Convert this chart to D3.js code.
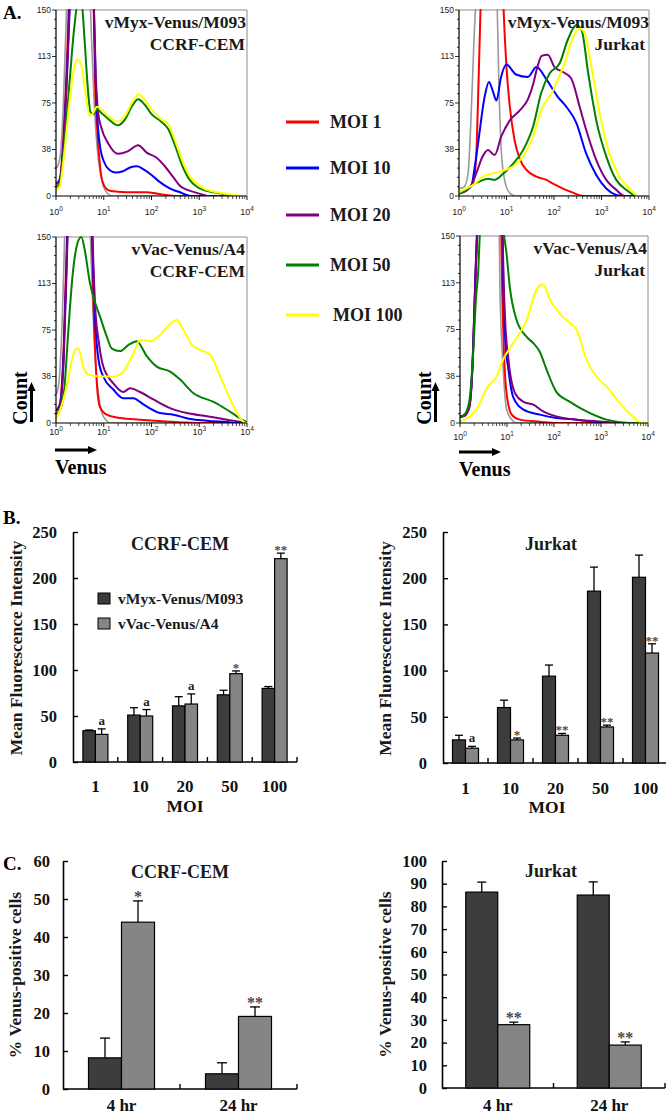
<!DOCTYPE html>
<html><head><meta charset="utf-8">
<script src="https://cdnjs.cloudflare.com/ajax/libs/d3/7.8.5/d3.min.js"></script>
<style>
body{margin:0;background:#fff}
svg{display:block;background:#fff}
.serif{font-family:"Liberation Serif","Times New Roman",serif;font-weight:bold}
.sans{font-family:"Liberation Sans",Arial,sans-serif}
</style></head>
<body><svg id="c" width="666" height="1116"></svg>
<script>
// ---------------- DATA ----------------
// Histogram curves: [log10(Venus), Count]
const tlGray=[[0,22],[0.08,30],[0.15,70],[0.22,150],[0.3,260],[0.45,400],[0.6,320],[0.68,200],[0.74,130],[0.8,75],[0.86,40],[0.93,18],[1.0,7],[1.08,2],[1.18,0],[4,0]];
const tlRed=[[0,9],[0.08,14],[0.16,50],[0.24,120],[0.32,220],[0.5,380],[0.7,300],[0.78,170],[0.82,90],[0.87,50],[0.92,25],[0.97,12],[1.05,6],[1.15,4],[1.3,3.5],[1.6,3],[1.9,3],[2.1,2],[2.3,0.8],[2.5,0],[4,0]];
const tlBlue=[[0,10],[0.08,13],[0.16,45],[0.24,110],[0.3,170],[0.5,400],[0.72,300],[0.78,170],[0.83,95],[0.88,55],[0.93,38],[1.0,28],[1.12,21],[1.25,19],[1.4,20],[1.55,23],[1.7,24],[1.85,21],[2.0,17],[2.15,12],[2.3,8],[2.45,5],[2.6,3],[2.72,1],[2.85,0],[4,0]];
const tlPurple=[[0,10],[0.08,12],[0.16,42],[0.24,105],[0.3,165],[0.5,400],[0.72,300],[0.78,175],[0.83,100],[0.88,68],[0.95,55],[1.1,42],[1.3,34],[1.5,36],[1.72,41],[1.9,35],[2.1,31],[2.3,23],[2.46,15],[2.6,8],[2.75,5],[2.95,2.5],[3.1,0.8],[3.2,0],[4,0]];
const tlGreen=[[0,7],[0.08,10],[0.16,35],[0.28,90],[0.38,135],[0.46,156],[0.54,154],[0.6,125],[0.66,90],[0.72,68],[0.78,66],[0.86,70],[0.95,67],[1.1,62],[1.3,57],[1.45,62],[1.6,73],[1.72,78],[1.85,74],[2.0,66],[2.2,60],[2.35,54],[2.5,40],[2.65,24],[2.8,13],[2.95,7.5],[3.08,5],[3.3,3],[3.5,1.5],[3.65,0],[4,0]];
const tlYellow=[[0,5],[0.08,8],[0.16,30],[0.28,75],[0.38,103],[0.46,110],[0.54,104],[0.62,82],[0.7,65],[0.76,66],[0.86,72],[0.95,70],[1.1,64],[1.3,60],[1.45,65],[1.6,76],[1.72,82],[1.85,78],[2.0,70],[2.2,62],[2.35,58],[2.5,44],[2.65,28],[2.8,16],[2.95,10],[3.1,6],[3.25,4],[3.45,2.5],[3.65,1.3],[3.9,0],[4,0]];

const trGray=[[0,6],[0.1,7],[0.19,18],[0.25,60],[0.32,130],[0.37,170],[0.55,400],[0.76,260],[0.8,160],[0.84,90],[0.89,37],[0.95,15],[1.0,7],[1.07,2.5],[1.15,0.5],[1.22,0],[4,0]];
const trRed=[[0,2],[0.12,4],[0.22,7],[0.3,11],[0.36,30],[0.41,90],[0.46,160],[0.6,400],[0.85,300],[0.9,200],[0.94,150],[1.0,104],[1.07,72],[1.17,45],[1.28,30],[1.42,21],[1.63,15.6],[1.84,13],[1.98,10],[2.19,6],[2.4,2.7],[2.54,0.5],[2.6,0],[4,0]];
const trBlue=[[0,3],[0.1,4],[0.2,6],[0.26,8],[0.33,23],[0.4,42],[0.54,80],[0.63,92],[0.7,86],[0.79,77],[0.88,95],[1.0,106],[1.2,98],[1.45,96],[1.63,104],[1.84,94],[2.08,80],[2.26,72],[2.47,59],[2.68,34],[2.89,17],[3.1,6],[3.31,0.8],[3.45,0],[4,0]];
const trPurple=[[0,2],[0.15,4],[0.25,8],[0.36,18],[0.5,32],[0.61,37],[0.75,33],[0.89,48],[1.07,61],[1.28,69],[1.45,78],[1.56,90],[1.65,104],[1.74,113],[1.87,114],[2.01,104],[2.19,100],[2.36,95],[2.54,72],[2.68,53],[2.89,29],[3.1,13],[3.31,5],[3.45,0.5],[3.55,0],[4,0]];
const trGreen=[[0,2],[0.15,5],[0.29,9],[0.45,12],[0.61,14],[0.75,13],[0.93,18],[1.14,26],[1.35,37],[1.56,56],[1.73,83],[1.91,99],[2.12,107],[2.29,126],[2.47,138],[2.58,134],[2.72,99],[2.89,61],[3.1,32],[3.31,13],[3.52,5],[3.7,0.5],[3.8,0],[4,0]];
const trYellow=[[0,3],[0.15,6],[0.3,9],[0.5,15.6],[0.86,19.6],[1.14,24],[1.35,32],[1.56,48],[1.73,69],[1.98,85],[2.22,107],[2.4,128],[2.54,135],[2.65,131],[2.79,104],[2.96,67],[3.17,34],[3.38,15.6],[3.59,6],[3.77,0],[4,0]];

const blGray=[[0,23],[0.05,29],[0.1,55],[0.16,120],[0.22,210],[0.45,400],[0.64,260],[0.72,150],[0.78,85],[0.84,43],[0.9,20],[0.96,8],[1.05,2.5],[1.13,0],[4,0]];
const blRed=[[0,10],[0.08,15],[0.16,60],[0.23,150],[0.3,250],[0.5,400],[0.7,300],[0.75,160],[0.79,90],[0.85,35],[0.92,13],[1.06,6.7],[1.34,4],[1.76,2.7],[2.32,1.3],[2.67,0.5],[3.0,0],[4,0]];
const blBlue=[[0,10],[0.08,14],[0.16,55],[0.23,140],[0.3,240],[0.5,400],[0.7,300],[0.76,150],[0.82,83],[0.89,51],[0.99,37.5],[1.2,27],[1.41,20],[1.62,20],[1.83,15],[2.18,8],[2.46,6.7],[2.81,3.2],[3.16,1.9],[3.58,0.8],[3.86,0],[4,0]];
const blPurple=[[0,10],[0.08,13],[0.16,50],[0.23,135],[0.3,235],[0.5,400],[0.7,300],[0.76,160],[0.82,94],[0.89,67],[0.99,45.5],[1.2,32],[1.41,25],[1.55,28],[1.76,25],[2.04,19],[2.39,12],[2.74,8],[3.16,5.4],[3.58,2.7],[3.93,0.5],[4,0]];
const blGreen=[[0,7],[0.1,12],[0.18,30],[0.25,70],[0.35,120],[0.45,145],[0.53,150],[0.6,140],[0.71,113],[0.82,97],[0.92,86],[1.06,70],[1.17,60],[1.34,58],[1.52,63],[1.69,66],[1.9,54],[2.11,45.5],[2.39,41.5],[2.6,35],[2.88,24],[3.3,17],[3.58,10.7],[3.79,5.4],[3.97,1.3],[4,1]];
const blYellow=[[0,3],[0.1,12],[0.22,29],[0.34,52],[0.4,59],[0.47,60],[0.57,45.5],[0.68,39],[0.92,37.5],[1.2,37.5],[1.41,41.5],[1.62,56],[1.76,67],[1.97,66],[2.18,71],[2.39,80],[2.53,83],[2.67,75],[2.85,63],[3.02,59],[3.23,55],[3.44,37.5],[3.65,19],[3.86,4],[3.97,0],[4,0]];

const brGray=[[0,5],[0.1,6],[0.2,12],[0.26,40],[0.32,110],[0.38,170],[0.6,400],[0.8,250],[0.85,109],[0.92,43],[0.99,11],[1.1,2.7],[1.2,0],[4,0]];
const brRed=[[0,5],[0.1,6],[0.2,14],[0.27,50],[0.33,120],[0.38,170],[0.6,400],[0.85,300],[0.88,150],[0.92,75],[0.99,24],[1.1,6.7],[1.27,2.7],[1.7,1],[2.05,0],[4,0]];
const brBlue=[[0,5],[0.1,6],[0.2,14],[0.27,50],[0.33,120],[0.38,170],[0.6,400],[0.87,300],[0.91,140],[0.96,69],[1.03,43],[1.13,21],[1.35,10.7],[1.7,6.7],[2.05,4],[2.48,2.7],[2.97,0.5],[3.3,0],[4,0]];
const brPurple=[[0,5],[0.1,6],[0.2,13],[0.27,48],[0.33,115],[0.38,165],[0.6,400],[0.87,300],[0.91,150],[0.96,83],[1.03,51],[1.17,24],[1.35,17],[1.56,14.7],[1.77,9.3],[2.05,5.3],[2.48,2.7],[2.97,1.3],[3.5,0],[4,0]];
const brGreen=[[0,5],[0.1,7],[0.2,18],[0.28,56],[0.34,100],[0.39,123],[0.43,160],[0.6,400],[0.85,250],[0.92,160],[0.99,136],[1.06,109],[1.2,83],[1.42,69],[1.56,64],[1.7,57],[1.84,43],[2.05,25],[2.34,17],[2.69,9.3],[3.12,2.7],[3.47,0.5],[3.65,0],[4,0]];
const brYellow=[[0,1],[0.2,5],[0.35,10.7],[0.57,28],[0.78,37.4],[0.92,51],[1.13,64],[1.42,83],[1.63,107],[1.77,111],[1.91,99],[2.12,88],[2.34,80],[2.48,75],[2.69,51],[2.9,37.4],[3.15,28],[3.4,16],[3.68,5.3],[3.86,0],[4,0]];

const histYTicks=[0,37.5,75,112.5,150];
const histYLabels=["0","38","75","113","150"];
const histXTicks=[0,1,2,3,4];
const moiLegend=["MOI 1","MOI 10","MOI 20","MOI 50","MOI 100"];
const moiColors=["#ff0000","#0000ff","#800080","#008000","#ffff00"];
const controlColor="#9a9a9a";

// Panel B
const moiCats=["1","10","20","50","100"];
const seriesNames=["vMyx-Venus/M093","vVac-Venus/A4"];
const barColors=["#3d3d3d","#858585"];
const bCemMyx=[34,51,61,73,80], bCemMyxErr=[0.8,8,10,5,2];
const bCemVac=[30,50,63,96,221], bCemVacErr=[6,7,11,3,6];
const bCemAnn=["a","a","a","*","**"];
const bJurMyx=[25,60,94,186,201], bJurMyxErr=[5,8,12,26,24];
const bJurVac=[16,25,30,39,119], bJurVacErr=[2,2,2,2,10];
const bJurAnn=["a","*","**","**","**"];
const bTicks=[0,50,100,150,200,250];

// Panel C
const timeCats=["4 hr","24 hr"];
const cCemMyx=[8.2,4.0], cCemMyxErr=[5.2,2.9];
const cCemVac=[43.9,19.1], cCemVacErr=[5.6,2.5];
const cCemAnn=["*","**"];
const cJurMyx=[86.3,85.0], cJurMyxErr=[4.4,5.8];
const cJurVac=[27.9,18.9], cJurVacErr=[1.1,1.4];
const cJurAnn=["**","**"];
const cCemTicks=[0,10,20,30,40,50,60];
const cJurTicks=[0,10,20,30,40,50,60,70,80,90,100];

// ---------------- DRAW ----------------
const svg=d3.select("#c");
svg.append("rect").attr("width",666).attr("height",1116).attr("fill","#fff");

function arrow(g,x1,y1,x2,y2){
  const ang=Math.atan2(y2-y1,x2-x1), L=9, W=4;
  const bx=x2-L*Math.cos(ang), by=y2-L*Math.sin(ang);
  g.append("line").attr("x1",x1).attr("y1",y1).attr("x2",bx).attr("y2",by).attr("stroke","#000").attr("stroke-width",3);
  const px=-Math.sin(ang)*W, py=Math.cos(ang)*W;
  g.append("path").attr("d",`M${x2},${y2}L${bx+px},${by+py}L${bx-px},${by-py}Z`).attr("fill","#000");
}

let clipN=0;
function hist(c){
  const g=svg.append("g");
  const x=d3.scaleLog().domain([1,1e4]).range([c.x0,c.x1]);
  const y=d3.scaleLinear().domain([0,150]).range([c.y1,c.y0]);
  const id="clip"+(clipN++);
  svg.append("clipPath").attr("id",id).append("rect").attr("x",c.x0).attr("y",c.y0-1).attr("width",c.x1-c.x0).attr("height",c.y1-c.y0+1);
  g.append("path").attr("d",`M${c.x0},${c.y0}H${c.x1}V${c.y1}`).attr("fill","none").attr("stroke","#8c8c8c").attr("stroke-width",1);
  const line=d3.line().x(d=>x(Math.pow(10,d[0]))).y(d=>y(d[1])).curve(d3.curveMonotoneX);
  c.curves.forEach((cv,i)=>{
    g.append("path").attr("d",line(cv)).attr("fill","none")
     .attr("stroke",i===0?controlColor:moiColors[i-1]).attr("stroke-width",i===0?1.6:2)
     .attr("clip-path",`url(#${id})`);
  });
  g.append("line").attr("x1",c.x0).attr("x2",c.x0).attr("y1",c.y0).attr("y2",c.y1).attr("stroke","#000").attr("stroke-width",1.2);
  d3.range(0,150.1,7.5).forEach(v=>{
    const maj=histYTicks.includes(v);
    g.append("line").attr("x1",c.x0).attr("x2",c.x0-(maj?4:2)).attr("y1",y(v)).attr("y2",y(v)).attr("stroke","#000").attr("stroke-width",0.8);
  });
  histYTicks.forEach((v,i)=>g.append("text").attr("class","sans").attr("x",c.x0-5).attr("y",y(v)).attr("dy","0.35em")
     .attr("text-anchor","end").attr("font-size",8.5).attr("fill","#222").text(histYLabels[i]));
  g.append("line").attr("x1",c.x0).attr("x2",c.x1).attr("y1",c.y1).attr("y2",c.y1).attr("stroke","#000").attr("stroke-width",1.2);
  histXTicks.forEach(e=>{
    const v=Math.pow(10,e);
    g.append("line").attr("x1",x(v)).attr("x2",x(v)).attr("y1",c.y1).attr("y2",c.y1+4).attr("stroke","#000").attr("stroke-width",0.9);
    if(e<4) for(let k=2;k<10;k++){
      g.append("line").attr("x1",x(k*v)).attr("x2",x(k*v)).attr("y1",c.y1).attr("y2",c.y1+3).attr("stroke","#000").attr("stroke-width",0.7);
    }
    const t=g.append("text").attr("class","sans").attr("x",x(v)).attr("y",c.lblY).attr("text-anchor","middle").attr("font-size",9).attr("fill","#222");
    t.append("tspan").text("10");
    t.append("tspan").attr("dy",-4).attr("font-size",6.5).text(String(e));
  });
  g.append("text").attr("class","serif").attr("x",c.tx).attr("y",c.y0+17.5).attr("text-anchor","end").attr("font-size",17.5).attr("fill","#1a1a1a").text(c.t1);
  g.append("text").attr("class","serif").attr("x",c.tx2).attr("y",c.y0+40).attr("text-anchor","end").attr("font-size",17.5).attr("fill","#1a1a1a").text(c.t2);
  if(c.countX!==undefined){
    g.append("text").attr("class","serif").attr("transform",`translate(${c.countX},398) rotate(-90)`).attr("text-anchor","middle").attr("font-size",20).text("Count");
    arrow(g,c.countX+4.5,422,c.countX+4.5,382);
    arrow(g,c.x0-1,c.venusArrowY,c.x0+41,c.venusArrowY);
    g.append("text").attr("class","serif").attr("x",c.x0-1).attr("y",c.venusY).attr("font-size",20).text("Venus");
  }
}

hist({x0:56,x1:247,y0:10,y1:196,lblY:215,t1:"vMyx-Venus/M093",t2:"CCRF-CEM",tx:246,tx2:245,
  curves:[tlGray,tlRed,tlBlue,tlPurple,tlGreen,tlYellow]});
hist({x0:459,x1:649,y0:10,y1:196,lblY:215,t1:"vMyx-Venus/M093",t2:"Jurkat",tx:649,tx2:645,
  curves:[trGray,trRed,trBlue,trPurple,trGreen,trYellow]});
hist({x0:56,x1:247,y0:237,y1:423,lblY:435,t1:"vVac-Venus/A4",t2:"CCRF-CEM",tx:245,tx2:245,
  countX:27,venusArrowY:450,venusY:474,
  curves:[blGray,blRed,blBlue,blPurple,blGreen,blYellow]});
hist({x0:460,x1:648,y0:236,y1:423,lblY:440,t1:"vVac-Venus/A4",t2:"Jurkat",tx:647,tx2:645,
  countX:431,venusArrowY:452,venusY:476,
  curves:[brGray,brRed,brBlue,brPurple,brGreen,brYellow]});

// Legend A
const legY=d3.scaleOrdinal().domain(moiLegend).range([122,168,215,265,315]);
moiLegend.forEach((m,i)=>{
  svg.append("line").attr("x1",286).attr("x2",319).attr("y1",legY(m)).attr("y2",legY(m)).attr("stroke",moiColors[i]).attr("stroke-width",3);
  svg.append("text").attr("class","serif").attr("x",i===4?333:330).attr("y",legY(m)+6).attr("font-size",18).attr("fill","#1a1a1a").text(m);
});

// Panel labels
[["A.",3,19],["B.",3,524],["C.",3,870]].forEach(p=>svg.append("text").attr("class","serif").attr("x",p[1]).attr("y",p[2]).attr("font-size",19).text(p[0]));

// Bar charts
function bars(c){
  const g=svg.append("g");
  const x=d3.scaleBand().domain(c.cats).range([c.x0,c.x1]).padding(0);
  const bw=x.bandwidth();
  const xs=d3.scaleBand().domain(seriesNames).range([bw/2-c.barW,bw/2+c.barW]).padding(0);
  const y=d3.scaleLinear().domain([0,c.max]).range([c.yB,c.yT]);
  const ax=d3.axisLeft(y).tickValues(c.ticks).tickSizeInner(-5).tickSizeOuter(0).tickPadding(c.pad);
  const ag=g.append("g").attr("transform",`translate(${c.x0},0)`).call(ax);
  ag.select(".domain").attr("stroke-width",1.6);
  ag.selectAll(".tick line").attr("stroke-width",1.4);
  ag.selectAll("text").attr("class","serif").attr("font-size",16.5).attr("fill","#111");
  g.append("line").attr("x1",c.x0).attr("x2",c.x1).attr("y1",y(0)).attr("y2",y(0)).attr("stroke","#000").attr("stroke-width",1.6);
  c.cats.forEach((k,i)=>{
    const bx=x(k)+bw;
    g.append("line").attr("x1",bx).attr("x2",bx).attr("y1",y(0)).attr("y2",y(0)-5).attr("stroke","#000").attr("stroke-width",1.4);
    g.append("text").attr("class","serif").attr("x",x(k)+bw/2).attr("y",y(0)+c.catDy).attr("text-anchor","middle").attr("font-size",17).attr("fill","#111").text(k);
  });
  const sets=[[c.s1,c.e1],[c.s2,c.e2]];
  sets.forEach((s,si)=>{
    c.cats.forEach((k,i)=>{
      const bx=x(k)+xs(seriesNames[si]);
      g.append("rect").attr("x",bx).attr("y",y(s[0][i])).attr("width",xs.bandwidth()).attr("height",y(0)-y(s[0][i]))
        .attr("fill",barColors[si]).attr("stroke","#000").attr("stroke-width",1.2);
      const cx=bx+xs.bandwidth()/2, top=y(s[0][i]+s[1][i]);
      g.append("line").attr("x1",cx).attr("x2",cx).attr("y1",y(s[0][i])).attr("y2",top).attr("stroke","#000").attr("stroke-width",1.3);
      g.append("line").attr("x1",cx-c.cap/2).attr("x2",cx+c.cap/2).attr("y1",top).attr("y2",top).attr("stroke","#000").attr("stroke-width",1.3);
      if(si===1&&c.ann[i]){
        const isA=c.ann[i]==="a";
        g.append("text").attr("class","serif").attr("x",cx).attr("y",isA?top-4:top+c.starDy)
          .attr("text-anchor","middle")
          .attr("font-size",isA?13:c.starSize).attr("fill",isA?"#222":"#4a4a4a").text(c.ann[i]);
      }
    });
  });
  g.append("text").attr("class","serif").attr("x",c.titleX).attr("y",c.titleY).attr("text-anchor","middle").attr("font-size",18).attr("fill","#1a1a1a").text(c.title);
  g.append("text").attr("class","serif").attr("transform",`translate(${c.yTitleX},${(c.yT+c.yB)/2+c.yTitleDy}) rotate(-90)`).attr("text-anchor","middle").attr("font-size",17.5).attr("fill","#1a1a1a").text(c.yTitle);
  if(c.xTitle) g.append("text").attr("class","serif").attr("x",c.xTitleX).attr("y",y(0)+50).attr("text-anchor","middle").attr("font-size",17.5).attr("fill","#111").text(c.xTitle);
  if(c.legend){
    seriesNames.forEach((n,i)=>{
      g.append("rect").attr("x",98).attr("y",593+25*i).attr("width",12).attr("height",11).attr("fill",barColors[i]).attr("stroke","#000").attr("stroke-width",1);
      g.append("text").attr("class","serif").attr("x",118).attr("y",604+25*i).attr("font-size",15.5).attr("fill","#1a1a1a").text(n);
    });
  }
}

bars({x0:73,x1:297,yT:532,yB:762,max:250,ticks:bTicks,cats:moiCats,barW:12.5,pad:16,catDy:30,cap:8,
  s1:bCemMyx,e1:bCemMyxErr,s2:bCemVac,e2:bCemVacErr,ann:bCemAnn,starSize:13,starDy:1,
  title:"CCRF-CEM",titleX:180,titleY:550,yTitle:"Mean Fluorescence Intensity",yTitleX:22,yTitleDy:1,xTitle:"MOI",xTitleX:185,legend:true});
bars({x0:443,x1:668,yT:532,yB:763,max:250,ticks:bTicks,cats:moiCats,barW:13,pad:16,catDy:31,cap:8,
  s1:bJurMyx,e1:bJurMyxErr,s2:bJurVac,e2:bJurVacErr,ann:bJurAnn,starSize:13,starDy:1,
  title:"Jurkat",titleX:551,titleY:550,yTitle:"Mean Fluorescence Intensity",yTitleX:391,yTitleDy:1,xTitle:"MOI",xTitleX:547});
bars({x0:63,x1:297,yT:861,yB:1089,max:60,ticks:cCemTicks,cats:timeCats,barW:33,pad:13,catDy:22,cap:10,
  s1:cCemMyx,e1:cCemMyxErr,s2:cCemVac,e2:cCemVacErr,ann:cCemAnn,starSize:16,starDy:1,
  title:"CCRF-CEM",titleX:180,titleY:878,yTitle:"% Venus-positive cells",yTitleX:21,yTitleDy:0});
bars({x0:442,x1:665,yT:861,yB:1088,max:100,ticks:cJurTicks,cats:timeCats,barW:32,pad:15,catDy:23,cap:9,
  s1:cJurMyx,e1:cJurMyxErr,s2:cJurVac,e2:cJurVacErr,ann:cJurAnn,starSize:16,starDy:1,
  title:"Jurkat",titleX:551,titleY:877,yTitle:"% Venus-positive cells",yTitleX:391,yTitleDy:0});
</script></body></html>
